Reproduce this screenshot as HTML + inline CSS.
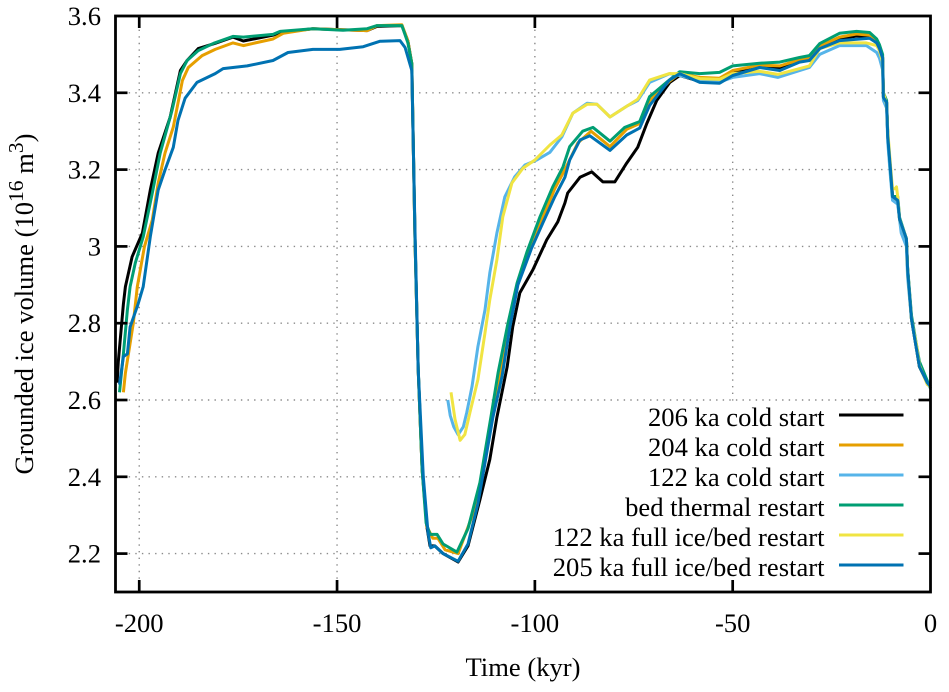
<!DOCTYPE html>
<html>
<head>
<meta charset="utf-8">
<title>Grounded ice volume</title>
<style>
html,body{margin:0;padding:0;background:#fff;}
svg{display:block;}
text{font-family:"Liberation Serif",serif;fill:#000;}
</style>
</head>
<body>
<svg id="chart" xmlns="http://www.w3.org/2000/svg" width="949" height="692" viewBox="0 0 949 692"></svg>
<script>
const xTickValues = [-200, -150, -100, -50, 0];
const yTickValues = [2.2, 2.4, 2.6, 2.8, 3, 3.2, 3.4, 3.6];
const xGridValues = [-200, -150, -100, -50];
const yGridValues = [2.2, 2.4, 2.6, 2.8, 3, 3.2, 3.4];

const legendLabels = ["206 ka cold start", "204 ka cold start", "122 ka cold start", "bed thermal restart", "122 ka full ice/bed restart", "205 ka full ice/bed restart"];
const seriesColors = ["#000000", "#e69f00", "#56b4e9", "#009e73", "#f0e442", "#0072b2"];

const time206 = [-205.6,-205.3,-204,-203.5,-201.8,-199.2,-197.2,-195.2,-192.2,-189.6,-187.9,-185.1,-180.8,-176.3,-173.7,-166.2,-164.4,-156.1,-142.4,-139.9,-133.6,-132.1,-131.1,-130.3,-129.5,-128.5,-127.3,-126.5,-125.3,-123.2,-119.4,-116.9,-113.9,-111.4,-109.6,-107,-105.6,-103.8,-100.5,-97,-94.2,-92.4,-91.7,-88.6,-85.6,-82.8,-79.8,-76.8,-74,-71.7,-69.2,-65.9,-63.4,-58.3,-53.3,-50,-43.2,-38.1,-33.1,-30.6,-28,-23,-18.7,-15.4,-13.6,-12.9,-12.1,-11.9,-11.1,-10.8,-10.1,-9.6,-8.3,-7.8,-6.1,-5.8,-4.8,-3.5,-2.8,-0.8,0];
const volume206 = [2.645,2.7,2.85,2.895,2.973,3.035,3.147,3.243,3.336,3.458,3.484,3.515,3.529,3.545,3.535,3.55,3.557,3.567,3.562,3.573,3.575,3.535,3.476,3.02,2.68,2.42,2.27,2.22,2.22,2.2,2.178,2.22,2.34,2.445,2.555,2.687,2.79,2.879,2.939,3.017,3.064,3.113,3.139,3.18,3.194,3.168,3.168,3.217,3.258,3.32,3.38,3.427,3.445,3.43,3.43,3.45,3.47,3.465,3.482,3.488,3.518,3.54,3.548,3.545,3.53,3.518,3.492,3.39,3.375,3.284,3.2,3.13,3.12,3.07,3.02,2.94,2.81,2.73,2.687,2.645,2.635];

const time204 = [-204,-203.5,-201.5,-200.5,-198.7,-196.7,-195.2,-193.5,-191.4,-189.1,-187.6,-184.1,-180.8,-176.3,-173.7,-166.2,-163.6,-156.1,-142.4,-139.9,-133.6,-132.1,-131.1,-130.3,-129.5,-128.5,-127.3,-125.8,-124.5,-122.7,-119.4,-115.9,-113.9,-110.8,-108.8,-106.6,-104.3,-101.3,-98.2,-95,-92.4,-89.1,-85.8,-81,-76.8,-73.5,-71,-66,-63.4,-58.3,-53.3,-50,-43.2,-38.1,-33.1,-30.6,-28,-23,-18.7,-15.4,-13.6,-12.9,-12.1,-11.9,-11.1,-10.8,-10.1,-9.6,-8.3,-7.8,-6.1,-5.8,-4.8,-3.5,-2.8,-0.8,0];
const volume204 = [2.62,2.67,2.8,2.895,2.999,3.069,3.165,3.243,3.311,3.432,3.466,3.497,3.513,3.53,3.523,3.54,3.555,3.567,3.562,3.575,3.577,3.535,3.476,3.02,2.68,2.42,2.27,2.24,2.24,2.21,2.2,2.297,2.375,2.557,2.671,2.8,2.905,2.99,3.07,3.15,3.2,3.27,3.3,3.26,3.305,3.32,3.38,3.43,3.45,3.44,3.438,3.458,3.472,3.47,3.486,3.49,3.522,3.545,3.553,3.55,3.53,3.518,3.492,3.39,3.375,3.284,3.2,3.13,3.12,3.07,3.02,2.94,2.81,2.73,2.687,2.645,2.635];

const time122 = [-122,-121.4,-120.5,-119.4,-118.1,-117.2,-115.9,-114.4,-112.6,-111.4,-109.6,-107.6,-105.1,-102.5,-99.5,-96.2,-93.2,-90.4,-86.8,-84.3,-81,-76.8,-74,-71,-65.9,-63.4,-58.3,-53.3,-50,-43.2,-38.6,-30.6,-28,-23,-16.2,-13.6,-12.9,-12.1,-11.9,-11.1,-10.8,-10.1,-9.6,-8.3,-7.4,-6.1,-5.8,-4.8,-3.5,-2.8,-0.8,0];
const volume122 = [2.6,2.56,2.53,2.51,2.53,2.568,2.635,2.739,2.835,2.931,3.035,3.129,3.181,3.212,3.225,3.245,3.285,3.347,3.373,3.37,3.337,3.365,3.38,3.427,3.45,3.445,3.432,3.428,3.44,3.45,3.44,3.466,3.5,3.523,3.523,3.505,3.49,3.46,3.38,3.36,3.27,3.18,3.12,3.11,3.035,3,2.92,2.81,2.73,2.69,2.645,2.635];

const timeBed = [-205,-204,-203,-202.3,-201,-199,-196.7,-194.7,-191.7,-189.6,-187.9,-185.1,-181.2,-176.3,-173.7,-166.2,-164.4,-156.1,-148.5,-142.4,-139.9,-133.6,-132.1,-131.1,-130.3,-129.5,-128.5,-127.5,-126.5,-124.7,-123.2,-119.7,-116.9,-113.9,-111.1,-109.3,-106.8,-104.5,-102,-98.7,-95.5,-92.9,-91.2,-87.9,-85.3,-81,-77.3,-73.5,-71,-66.4,-63.4,-58.3,-53.3,-50,-43.2,-38.1,-33.1,-30.6,-28,-23,-18.7,-15.4,-13.6,-12.9,-12.1,-11.9,-11.1,-10.8,-10.1,-9.6,-8.3,-7.8,-6.1,-5.8,-4.8,-3.5,-2.8,-0.8,0];
const volumeBed = [2.62,2.72,2.835,2.895,2.957,3.025,3.139,3.243,3.355,3.45,3.484,3.51,3.529,3.547,3.545,3.552,3.56,3.567,3.563,3.567,3.575,3.575,3.53,3.476,3.02,2.68,2.42,2.28,2.25,2.25,2.225,2.204,2.265,2.385,2.557,2.671,2.8,2.905,2.986,3.077,3.155,3.207,3.26,3.3,3.31,3.274,3.31,3.325,3.39,3.43,3.455,3.45,3.453,3.47,3.477,3.48,3.492,3.497,3.528,3.555,3.56,3.557,3.54,3.525,3.5,3.4,3.38,3.29,3.2,3.13,3.13,3.075,3.02,2.945,2.82,2.74,2.7,2.65,2.63];

const timeFull122 = [-121.2,-120.2,-118.9,-117.7,-116.4,-114.4,-112.6,-111.4,-109.6,-108.1,-105.8,-103,-100,-96.2,-93.2,-90.4,-86.8,-84.3,-81,-76.8,-74,-71,-66,-63.4,-58.3,-53.3,-50,-43.2,-38.6,-30.6,-28,-23,-16.2,-13.6,-12.9,-12.1,-11.9,-11.1,-10.8,-10.1,-9.6,-9,-8.6,-8.3,-7.8,-6.1,-5.8,-4.8,-3.5,-2.8,-0.8,0];
const volumeFull122 = [2.62,2.55,2.495,2.51,2.568,2.653,2.775,2.861,2.965,3.077,3.165,3.204,3.225,3.264,3.29,3.347,3.37,3.37,3.337,3.365,3.383,3.433,3.45,3.45,3.437,3.435,3.45,3.456,3.448,3.47,3.515,3.53,3.53,3.523,3.51,3.48,3.4,3.37,3.3,3.21,3.15,3.15,3.155,3.13,3.07,3.02,2.94,2.81,2.74,2.69,2.64,2.635];

const time205 = [-205,-204,-203,-202.3,-200.3,-199,-197.2,-195.2,-193.5,-191.4,-190.2,-188.4,-185.4,-180.8,-178.8,-172.7,-166.2,-162.4,-156.1,-149.3,-143.4,-139.2,-134.1,-132.8,-131.1,-130.3,-129.5,-128.2,-127,-126.3,-125.3,-123.2,-119.4,-116.9,-114.4,-110.6,-108.3,-106.3,-104.3,-100.8,-98,-95,-92.4,-91.2,-88.6,-86.1,-81,-76.8,-73.5,-71,-66,-63.4,-58.3,-53.3,-50,-43.2,-38.1,-33.1,-30.6,-28,-23,-15.4,-13.6,-12.9,-12.1,-11.9,-11.1,-10.8,-10.1,-9.6,-8.3,-7.8,-6.1,-5.8,-4.8,-3.5,-2.8,-0.8,0];
const volume205 = [2.64,2.713,2.72,2.79,2.85,2.895,3.025,3.147,3.199,3.258,3.328,3.386,3.427,3.45,3.463,3.47,3.484,3.505,3.513,3.513,3.52,3.534,3.536,3.518,3.458,3.04,2.68,2.4,2.255,2.215,2.22,2.2,2.18,2.225,2.33,2.555,2.661,2.79,2.9,2.996,3.061,3.129,3.18,3.225,3.277,3.288,3.25,3.29,3.308,3.367,3.433,3.45,3.427,3.425,3.445,3.466,3.458,3.48,3.484,3.515,3.536,3.542,3.53,3.515,3.49,3.388,3.375,3.284,3.2,3.13,3.12,3.07,3.02,2.94,2.81,2.73,2.687,2.645,2.635];

const seriesTimes = [time206, time204, time122, timeBed, timeFull122, time205];
const seriesVolumes = [volume206, volume204, volume122, volumeBed, volumeFull122, volume205];
const seriesNames = ["series-206ka-cold-start", "series-204ka-cold-start", "series-122ka-cold-start", "series-bed-thermal-restart", "series-122ka-full-restart", "series-205ka-full-restart"];

const NS = "http://www.w3.org/2000/svg";
const svg = document.getElementById("chart");
const plotLeft = 115.5, plotRight = 930.5, plotTop = 16, plotBottom = 592;
const xMin = -206, xMax = 0, yMin = 2.1, yMax = 3.6;
function xScale(v){ return plotLeft + (v - xMin) / (xMax - xMin) * (plotRight - plotLeft); }
function yScale(v){ return plotBottom - (v - yMin) / (yMax - yMin) * (plotBottom - plotTop); }
function make(tag, attrs, parent){
  const el = document.createElementNS(NS, tag);
  for (const k in attrs) el.setAttribute(k, attrs[k]);
  (parent || svg).appendChild(el);
  return el;
}

// grid
xGridValues.forEach(function(v){
  const el = make("line", {x1:xScale(v), x2:xScale(v), y1:plotBottom, y2:plotTop, stroke:"#8a8a8a", "stroke-width":1.4, "stroke-dasharray":"1.4 5.2"});
  
  
});
yGridValues.forEach(function(v){
  const el = make("line", {x1:plotLeft, x2:plotRight, y1:yScale(v), y2:yScale(v), stroke:"#8a8a8a", "stroke-width":1.4, "stroke-dasharray":"1.4 5.2"});
  
  
});

// opaque legend background hiding the grid
const keyBox = make("rect", {x:461, y:403, width:468, height:187, fill:"#fff"});



// series
seriesTimes.forEach(function(times, i){
  const pts = times.map(function(t, j){ return xScale(t).toFixed(1) + "," + yScale(seriesVolumes[i][j]).toFixed(1); }).join(" ");
  const line = make("polyline", {points:pts, fill:"none", stroke:seriesColors[i], "stroke-width":3, "stroke-linejoin":"round"});
  
  
});

// ticks and tick labels
xTickValues.forEach(function(v){
  const x = xScale(v);
  if (v !== 0) {
    const a = make("line", {x1:x, x2:x, y1:plotBottom, y2:plotBottom-12, stroke:"#000", "stroke-width":2.7});
    
    
    const b = make("line", {x1:x, x2:x, y1:plotTop, y2:plotTop+12, stroke:"#000", "stroke-width":2.7});
    
    
  }
  const t = make("text", {x:x, y:632, "text-anchor":"middle", "font-size":26.6});
  t.textContent = String(v);
  
  
});
yTickValues.forEach(function(v){
  const y = yScale(v);
  if (v !== 3.6) {
    const a = make("line", {x1:plotLeft, x2:plotLeft+12, y1:y, y2:y, stroke:"#000", "stroke-width":2.7});
    
    
    const b = make("line", {x1:plotRight, x2:plotRight-12, y1:y, y2:y, stroke:"#000", "stroke-width":2.7});
    
    
  }
  const t = make("text", {x:101, y:y+9, "text-anchor":"end", "font-size":26.6});
  t.textContent = String(v);
  
  
});

// frame
const frame = make("rect", {x:plotLeft, y:plotTop, width:plotRight-plotLeft, height:plotBottom-plotTop, fill:"none", stroke:"#000", "stroke-width":2.8});



// legend
legendLabels.forEach(function(label, i){
  const y = 415 + i * 30;
  const t = make("text", {x:824.5, y:y+11, "text-anchor":"end", "font-size":26.6});
  t.textContent = label;
  
  
  const s = make("line", {x1:839, x2:903.5, y1:y, y2:y, stroke:seriesColors[i], "stroke-width":3});
  
  
});

// axis titles
const xTitle = make("text", {x:523, y:676, "text-anchor":"middle", "font-size":26.6});
xTitle.textContent = "Time (kyr)";



const yTitle = make("text", {transform:"translate(33,304) rotate(-90)", "text-anchor":"middle", "font-size":26.6});


yTitle.appendChild(document.createTextNode("Grounded ice volume (10"));
const sup1 = make("tspan", {dy:-10, "font-size":21.5}, yTitle);
sup1.textContent = "16";
const mid = make("tspan", {dy:10}, yTitle);
mid.textContent = " m";
const sup2 = make("tspan", {dy:-10, "font-size":21.5}, yTitle);
sup2.textContent = "3";
const end = make("tspan", {dy:10}, yTitle);
end.textContent = ")";
</script>
</body>
</html>
